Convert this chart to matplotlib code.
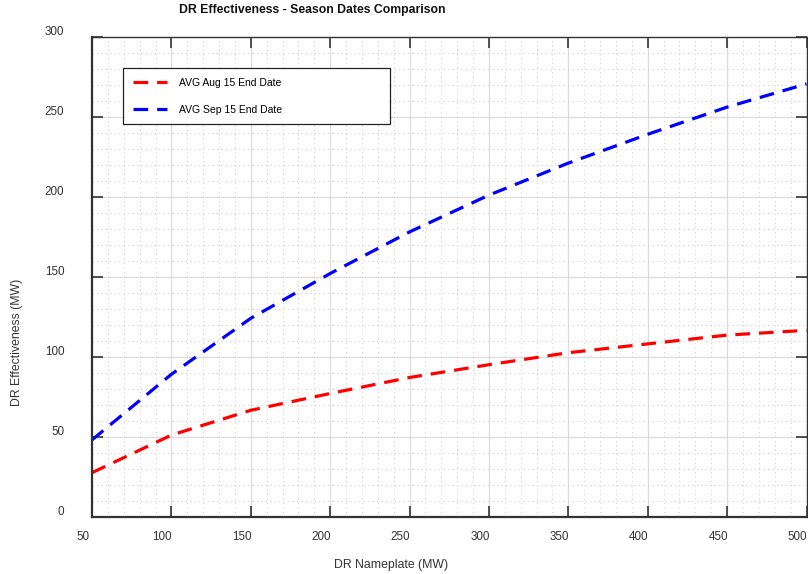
import matplotlib
matplotlib.use("Agg")
import matplotlib.pyplot as plt
import matplotlib.transforms as mtransforms
from matplotlib.ticker import MultipleLocator

plt.rcParams['font.family'] = ['Liberation Sans', 'DejaVu Sans']

# data
nameplate = [50, 100, 150, 200, 250, 300, 350, 400, 450, 500]
aug15 = [27.5, 51, 66.5, 77, 87, 95, 102.5, 108, 113.5, 116.5]
sep15 = [48, 89, 124, 152, 178, 201, 221, 239, 256, 270.5]
labels = ['AVG Aug 15 End Date', 'AVG Sep 15 End Date']

W, H = 808, 574
fig = plt.figure(figsize=(W / 100, H / 100), dpi=100)
ax = fig.add_axes([92 / W, 1 - 516.7 / H, (806.5 - 92) / W, (516.7 - 36.7) / H])

ax.plot(nameplate, aug15, color='#ff0000', lw=2.3, ls='--', dashes=(4.6, 2.8), label=labels[0])
ax.plot(nameplate, sep15, color='#0000ff', lw=2.3, ls='--', dashes=(4.6, 2.8), label=labels[1])

ax.set_xlim(50, 500)
ax.set_ylim(0, 300)
ax.xaxis.set_major_locator(MultipleLocator(50))
ax.yaxis.set_major_locator(MultipleLocator(50))
ax.xaxis.set_minor_locator(MultipleLocator(10))
ax.yaxis.set_minor_locator(MultipleLocator(10))

ax.grid(which='major', color='#dcdcdc', lw=0.9, ls='-')
ax.grid(which='minor', color='#d0d0d0', lw=0.8, ls=(0, (1, 3)))
ax.set_axisbelow(True)

for side, sp in ax.spines.items():
    sp.set_color('#333333')
    sp.set_linewidth(1.6 if side in ('left', 'bottom') else 1.0)

ax.tick_params(which='major', direction='in', length=8, width=1.2, color='#333333',
               top=True, right=True, labelsize=8.4, labelcolor='#333333')
ax.tick_params(which='minor', length=0)
ax.tick_params(axis='x', pad=10)
ax.tick_params(axis='y', pad=20)

# labels in the reference sit a little left/up of their ticks
for lab in ax.get_xticklabels():
    lab.set_transform(lab.get_transform() + mtransforms.ScaledTranslation(-9 / 100, 0, fig.dpi_scale_trans))
for lab in ax.get_yticklabels():
    lab.set_transform(lab.get_transform() + mtransforms.ScaledTranslation(0, 6.5 / 100, fig.dpi_scale_trans))

fig.text(312 / W, 1 - 10 / H, 'DR Effectiveness - Season Dates Comparison', ha='center', va='center',
         fontsize=8.8, fontweight='bold', color='#111111')
fig.text(391 / W, 1 - 565 / H, 'DR Nameplate (MW)', ha='center', va='center', fontsize=8.8, color='#333333')
fig.text(17 / W, 1 - 342 / H, 'DR Effectiveness (MW)', ha='center', va='center', rotation=90,
         fontsize=8.8, color='#333333')

leg = ax.legend(loc='upper left', bbox_to_anchor=(123 / W, 1 - 68 / H - 0.01, (390 - 123) / W, 0.01),
                bbox_transform=fig.transFigure, mode='expand', borderaxespad=0,
                fontsize=7.5, handlelength=3.3, handletextpad=1.1, labelspacing=1.6,
                borderpad=0.95, fancybox=False, framealpha=1, edgecolor='#222222')
leg.get_frame().set_linewidth(0.9)

fig.savefig('out.png', dpi=100)
